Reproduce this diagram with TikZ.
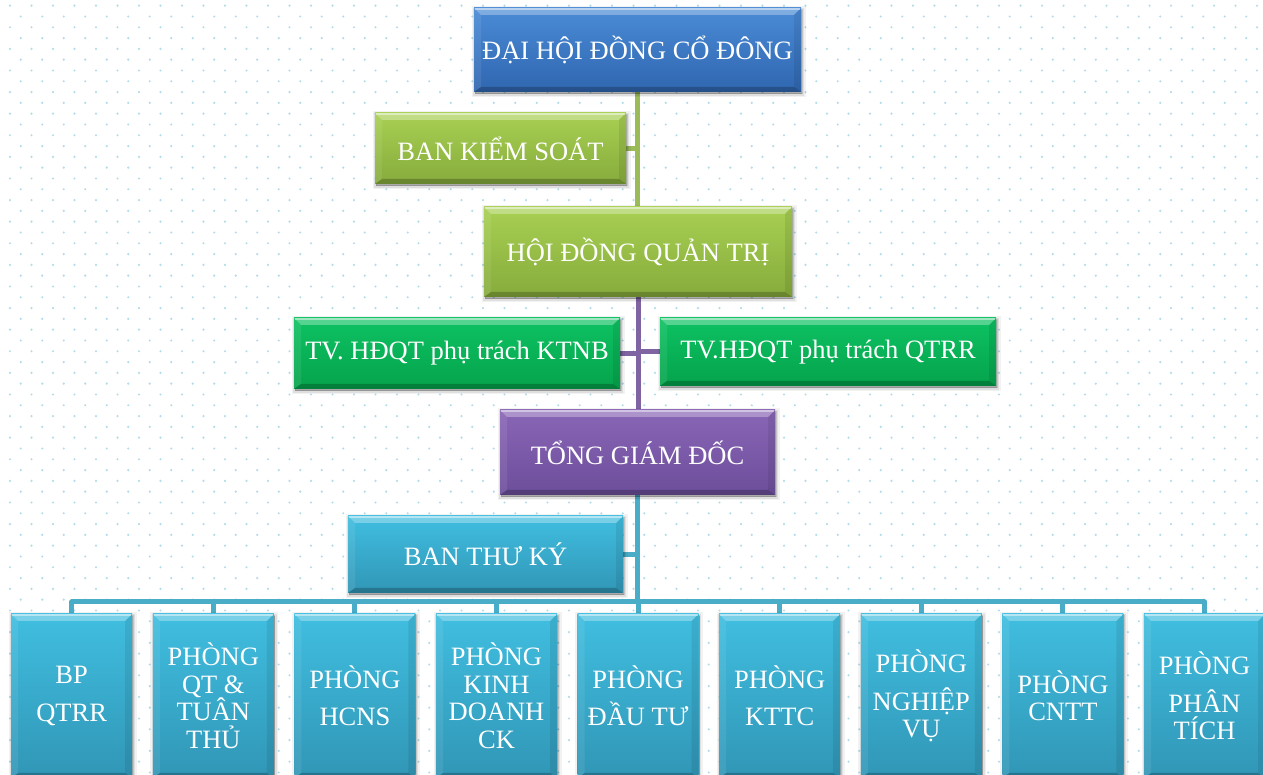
\documentclass[tikz,border=0pt]{standalone}
\usepackage{fontspec}
\setmainfont{Liberation Serif}
\usetikzlibrary{shadows,backgrounds,calc}
\definecolor{dotc}{HTML}{B2DCEB}
\definecolor{blueT}{HTML}{4A8BD6}\definecolor{blueB}{HTML}{3066B0}
\definecolor{oliveT}{HTML}{A8D052}\definecolor{oliveB}{HTML}{86AB3C}
\definecolor{greenT}{HTML}{0DC262}\definecolor{greenB}{HTML}{05A34C}
\definecolor{purpT}{HTML}{8A66B6}\definecolor{purpB}{HTML}{6C4E9B}
\definecolor{cyanT}{HTML}{40BEE0}\definecolor{cyanB}{HTML}{3196B6}
\definecolor{lnOlive}{HTML}{9BBB59}
\definecolor{lnPurp}{HTML}{8064A2}
\definecolor{lnCyan}{HTML}{4AADC7}
\tikzset{
  bevel/.style={path picture={
    \coordinate (pNW) at (path picture bounding box.north west);
    \coordinate (pNE) at (path picture bounding box.north east);
    \coordinate (pSW) at (path picture bounding box.south west);
    \coordinate (pSE) at (path picture bounding box.south east);
    \fill[white,opacity=.30] (pNW) -- (pNE) -- ($(pNE)+(-7,-7)$) -- ($(pNW)+(7,-7)$) -- cycle;
    \fill[white,opacity=.08] (pNW) -- ($(pNW)+(7,-7)$) -- ($(pSW)+(7,5)$) -- (pSW) -- cycle;
    \fill[black,opacity=.08] (pNE) -- ($(pNE)+(-7,-7)$) -- ($(pSE)+(-7,5)$) -- (pSE) -- cycle;
    \fill[black,opacity=.22] (pSW) -- (pSE) -- ($(pSE)+(-7,5)$) -- ($(pSW)+(7,5)$) -- cycle;
    \draw[white,opacity=.45,line width=1.5] ($(pNW)+(1,-0.8)$) -- ($(pNE)+(-1,-0.8)$);
  }},
  box/.style 2 args={draw=none, top color=#1, bottom color=#2, inner sep=2pt,
    text=white, align=center, font=\fontsize{26.5}{27.5}\selectfont,
    general shadow={draw=black, fill=black, line width=7pt, opacity=.05, shadow xshift=1pt, shadow yshift=-2pt},
    general shadow={draw=black, fill=black, line width=3.5pt, opacity=.08, shadow xshift=1pt, shadow yshift=-2pt},
    general shadow={draw=black, fill=black, line width=1pt, opacity=.12, shadow xshift=1pt, shadow yshift=-2pt},
    bevel},
  conn/.style={line width=5pt, line join=round, draw=#1},
}
\begin{document}
\begin{tikzpicture}[x=1pt,y=1pt]
\useasboundingbox (0,0) rectangle (1263,775);
\clip (0,0) rectangle (1263,775);
\begin{scope}[on background layer]
\fill[white] (0,0) rectangle (1263,775);
\foreach \k in {0,...,71}{
  \pgfmathsetmacro\yy{775-5.7-10.8*\k}
  \pgfmathsetmacro\xo{10+10.75*mod(\k,2)}
  \foreach \j in {0,...,58} \fill[dotc] ({\xo+21.5*\j},\yy) circle (1.2);
}
\end{scope}
% boxes
\node[box={blueT}{blueB}, minimum width=327pt, minimum height=84pt] (dh) at (637.5,725) {ĐẠI HỘI ĐỒNG CỔ ĐÔNG};
\node[box={oliveT}{oliveB}, minimum width=251pt, minimum height=71pt] (bks) at (500.5,626.5) {BAN KIỂM SOÁT};
\node[box={oliveT}{oliveB}, minimum width=308pt, minimum height=90pt] (hd) at (638,523) {HỘI ĐỒNG QUẢN TRỊ};
\node[box={greenT}{greenB}, minimum width=326pt, minimum height=71pt] (ktnb) at (457,421.5) {TV. HĐQT phụ trách KTNB};
\node[box={greenT}{greenB}, minimum width=336pt, minimum height=68pt] (qtrr) at (828,423) {TV.HĐQT phụ trách QTRR};
\node[box={purpT}{purpB}, minimum width=275pt, minimum height=85pt] (tgd) at (637.5,322.5) {TỔNG GIÁM ĐỐC};
\node[box={cyanT}{cyanB}, minimum width=275pt, minimum height=77pt] (btk) at (485.5,220.5) {BAN THƯ KÝ};
\foreach \i/\t in {1/{BP\\[10pt]QTRR},
                   2/{PHÒNG\\QT \&\\TUÂN\\THỦ},
                   3/{PHÒNG\\[10pt]HCNS},
                   4/{PHÒNG\\KINH\\DOANH\\CK},
                   5/{PHÒNG\\[10pt]ĐẦU TƯ},
                   6/{PHÒNG\\[10pt]KTTC},
                   7/{PHÒNG\\[10pt]NGHIỆP\\VỤ},
                   8/{PHÒNG\\CNTT},
                   9/{PHÒNG\\[10pt]PHÂN\\TÍCH}}{
  \node[box={cyanT}{cyanB}, minimum width=121pt, minimum height=164pt] (b\i) at ({71.7+141.6*(\i-1)},79) {\t};
}
% connectors
\begin{scope}[on background layer]
  \draw[conn=lnOlive] (dh.south) -- (dh.south |- hd.north);
  \draw[conn=lnOlive] (bks.east) -- (bks.east -| dh.south);
  \draw[conn=lnPurp] (hd.south) -- (hd.south |- tgd.north);
  \draw[conn=lnPurp] (ktnb.east) -- (ktnb.east -| hd.south);
  \draw[conn=lnPurp] (qtrr.west) -- (qtrr.west -| hd.south);
  \coordinate (bus) at (tgd.south |- 0,173);
  \draw[conn=lnCyan] (tgd.south) -- (bus);
  \draw[conn=lnCyan] (btk.east) -- (btk.east -| tgd.south);
  \foreach \i in {1,...,9} \draw[conn=lnCyan] (b\i.north) |- (bus);
\end{scope}
\end{tikzpicture}
\end{document}
